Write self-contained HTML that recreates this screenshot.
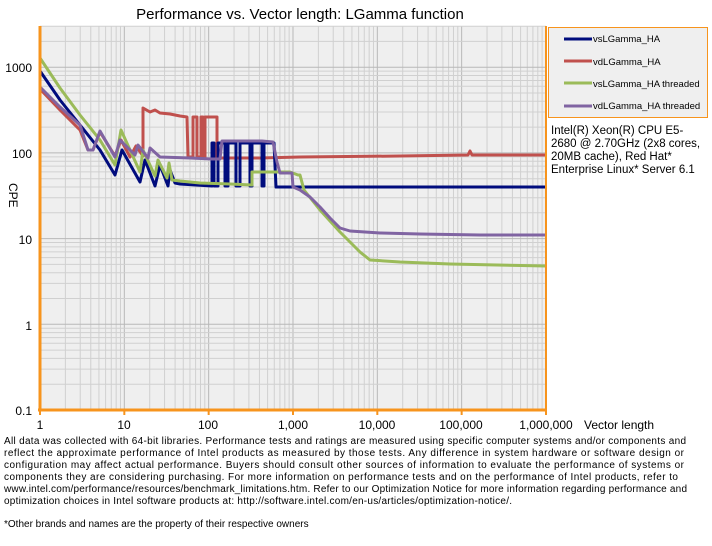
<!DOCTYPE html>
<html><head><meta charset="utf-8"><style>
body{margin:0;background:#fff;width:712px;height:546px;overflow:hidden;font-family:"Liberation Sans",sans-serif}
</style></head><body>
<svg width="712" height="546" style="position:absolute;left:0;top:0" font-family="Liberation Sans, sans-serif">
<rect x="40" y="26" width="506" height="384" fill="#efefef"/>
<g id="grid"></g>
<g fill="none" stroke-width="3" stroke-linejoin="round">
<polyline stroke="#c0504d" points="40,89 60,110 80,130 88,150 93,150 100,132 115,156 121,140 130,157 136,146 143,156 143,108 150,112 155,110 160,113 170,114 180,116 187,117 188,157 193,157 193,117 197,117 197,157 201,157 201,117 203,117 203,157 205,157 205,117 217,117 217,158 260,158 300,157 400,156 468,155 470,151 472,155 546,155"/>
<polyline stroke="#000c7d" points="40,71 60,100 80,125 100,150 115,175 122,150 140,182 145,160 155,186 160,165 168,186 170,170 175,183 180,184 212,186 212,143 214,143 214,186 218,186 218,143 225,143 225,186 228,186 228,143 236,143 236,186 240,186 240,143 250,143 250,186 252,186 252,143 262,143 262,186 264,186 264,143 274,143 276,187 546,187"/>
<polyline stroke="#9bbb59" points="40,58 60,88 80,115 100,140 115,165 121,130 140,172 143,150 155,176 158,160 167,178 169,163 172,180 180,181 200,183 230,184 252,185 252,172 270,172 290,172 298,175 300,175 304,190 320,210 340,232 360,252 370,260 400,262 450,264 546,266"/>
<polyline stroke="#8064a2" points="40,87 60,107 80,125 88,150 93,150 100,131 115,157 120,140 135,155 138,145 148,158 150,148 160,157 190,158 212,159 220,159 222,141 240,141 262,141 273,142 277,162 280,173 292,173 293,187 300,190 310,197 320,207 330,218 340,228 350,231 380,233 420,234 480,235 546,235"/>
</g>
<line x1="40" y1="26" x2="40" y2="411" stroke="#f7941d" stroke-width="3"/>
<line x1="546" y1="26" x2="546" y2="411" stroke="#f7941d" stroke-width="2"/>
<line x1="38" y1="410" x2="547" y2="410" stroke="#f7941d" stroke-width="3"/>
<g id="ticks" stroke="#f7941d" stroke-width="2"></g>
<g font-size="12" text-anchor="end" fill="#000">
<text x="32" y="72">1000</text><text x="32" y="158">100</text><text x="32" y="244">10</text><text x="32" y="330">1</text><text x="32" y="415">0.1</text>
</g>
<text transform="translate(9,183) rotate(90)" font-size="12">CPE</text>
<g font-size="12" text-anchor="middle">
<text x="40" y="429">1</text><text x="124" y="429">10</text><text x="208" y="429">100</text><text x="293" y="429">1,000</text><text x="377" y="429">10,000</text><text x="461" y="429">100,000</text><text x="546" y="429">1,000,000</text>
</g>
<text x="584" y="429" font-size="12">Vector length</text>
<text x="300" y="19" font-size="15" text-anchor="middle">Performance vs. Vector length: LGamma function</text>
<rect x="548.5" y="27.5" width="159" height="90" fill="#efefef" stroke="#f7941d"/>
<g stroke-width="3">
<line x1="564" y1="39" x2="592" y2="39" stroke="#000c7d"/>
<line x1="564" y1="61" x2="592" y2="61" stroke="#c0504d"/>
<line x1="564" y1="83" x2="592" y2="83" stroke="#9bbb59"/>
<line x1="564" y1="106" x2="592" y2="106" stroke="#8064a2"/>
</g>
<g font-size="9.5">
<text x="593" y="42">vsLGamma_HA</text><text x="593" y="65">vdLGamma_HA</text><text x="593" y="87">vsLGamma_HA threaded</text><text x="593" y="109">vdLGamma_HA threaded</text>
</g>
<g font-size="11.5">
<text x="551" y="134">Intel(R) Xeon(R) CPU E5-</text>
<text x="551" y="147">2680 @ 2.70GHz (2x8 cores,</text>
<text x="551" y="160">20MB cache), Red Hat*</text>
<text x="551" y="173">Enterprise Linux* Server 6.1</text>
</g>
<g font-size="10" fill="#000">
<text x="4" y="444" textLength="682" lengthAdjust="spacing">All data was collected with 64-bit libraries. Performance tests and ratings are measured using specific computer systems and/or components and</text>
<text x="4" y="456" textLength="680" lengthAdjust="spacing">reflect the approximate performance of Intel products as measured by those tests. Any difference in system hardware or software design or</text>
<text x="4" y="468" textLength="680" lengthAdjust="spacing">configuration may affect actual performance. Buyers should consult other sources of information to evaluate the performance of systems or</text>
<text x="4" y="480" textLength="674" lengthAdjust="spacing">components they are considering purchasing. For more information on performance tests and on the performance of Intel products, refer to</text>
<text x="4" y="492" textLength="683" lengthAdjust="spacing">www.intel.com/performance/resources/benchmark_limitations.htm. Refer to our Optimization Notice for more information regarding performance and</text>
<text x="4" y="504" textLength="508" lengthAdjust="spacing">optimization choices in Intel software products at: http://software.intel.com/en-us/articles/optimization-notice/.</text>
<text x="4" y="527">*Other brands and names are the property of their respective owners</text>
</g>
</svg>
<script>
var g=document.getElementById('grid'),t=document.getElementById('ticks'),s='',tk='';
for(var d=0;d<6;d++)for(var k=1;k<10;k++){var x=40+84.33*(d+Math.log10(k));s+='<line x1="'+x+'" y1="26" x2="'+x+'" y2="410" stroke="'+(k==1?'#b8b8b8':'#d0d0d0')+'" stroke-width="1"/>';if(k==1)tk+='<line x1="'+x+'" y1="410" x2="'+x+'" y2="415"/>';}
for(var d=0;d<5;d++)for(var k=1;k<10;k++){var y=410-85.7*(d+Math.log10(k));if(y<26)break;s+='<line x1="40" y1="'+y+'" x2="546" y2="'+y+'" stroke="'+(k==1?'#b8b8b8':'#d0d0d0')+'" stroke-width="1"/>';}
g.innerHTML=s;t.innerHTML=tk+'<line x1="546" y1="410" x2="546" y2="415"/>';
</script>
</body></html>
